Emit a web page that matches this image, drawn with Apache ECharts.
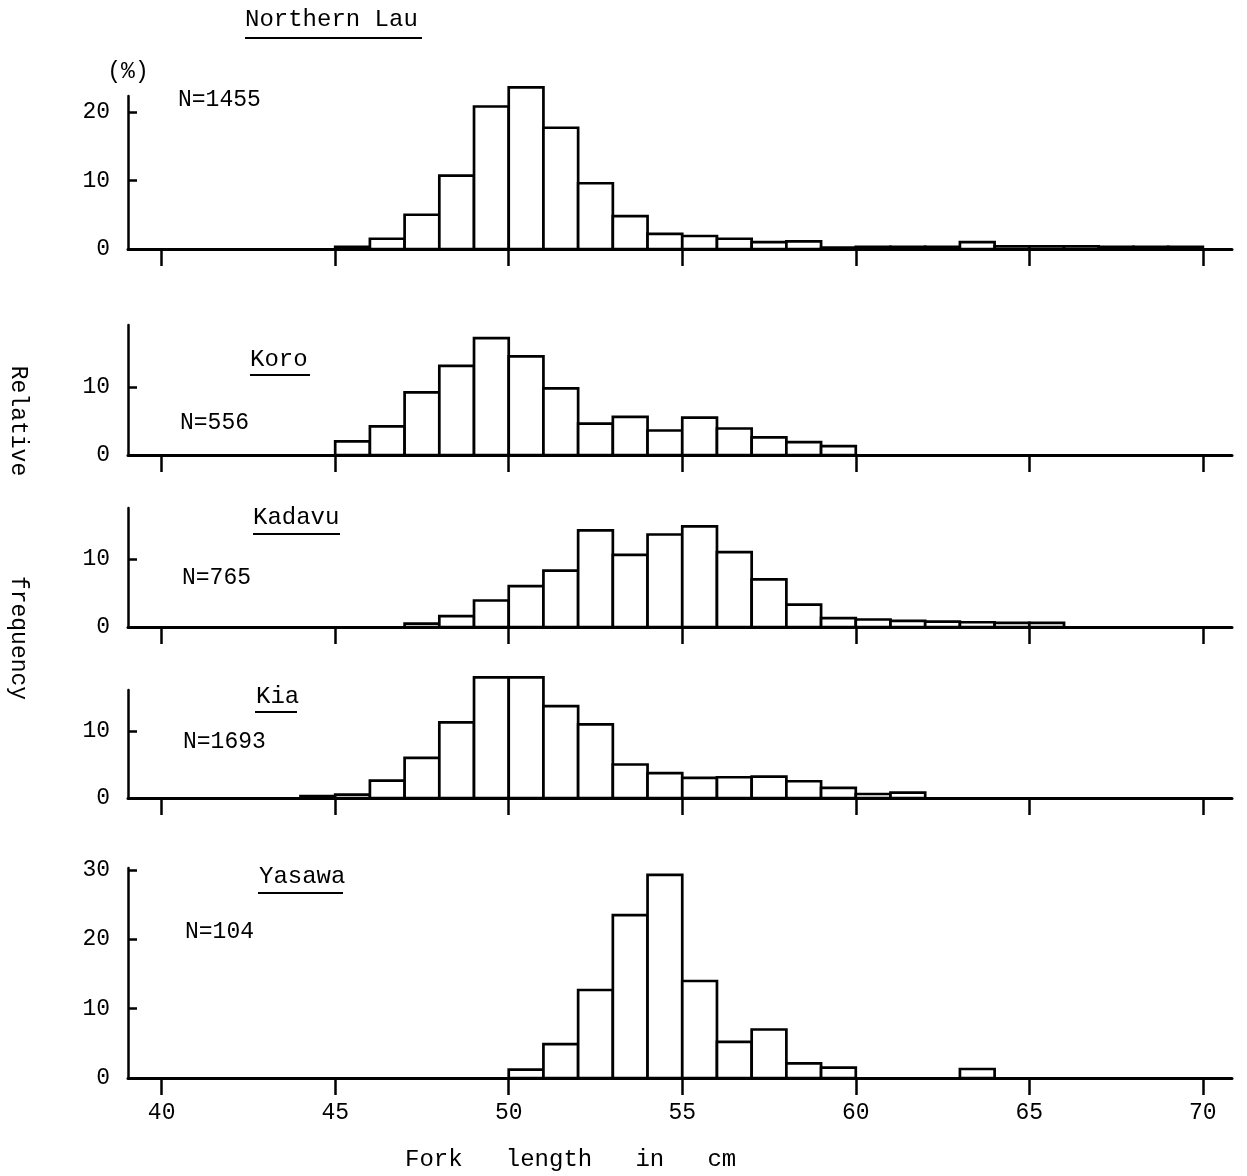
<!DOCTYPE html>
<html><head><meta charset="utf-8">
<script src="https://cdn.jsdelivr.net/npm/echarts@6/dist/echarts.min.js"></script>
<style>html,body{margin:0;padding:0;background:#fff}#c{width:1247px;height:1176px}</style>
</head><body><div id="c"></div>
<script>
// ---- data ----
const binStarts   = [44,45,46,47,48,49,50,51,52,53,54,55,56,57,58,59,60,61,62,63,64,65,66,67,68,69];
const binWidth = 1;
const northernLau = [0,0.3,1.5,5.0,10.7,20.8,23.6,17.7,9.6,4.8,2.2,1.9,1.5,1.0,1.1,0.2,0.3,0.3,0.3,1.0,0.4,0.4,0.4,0.3,0.3,0.3];
const koro        = [0,2.0,4.2,9.2,13.1,17.2,14.5,9.8,4.6,5.6,3.6,5.5,3.9,2.6,1.9,1.3,0,0,0,0,0,0,0,0,0,0];
const kadavu      = [0,0,0,0.5,1.6,3.9,6.0,8.3,14.2,10.6,13.6,14.8,11.0,7.0,3.3,1.3,1.1,0.9,0.8,0.7,0.6,0.6,0,0,0,0];
const kia         = [0.3,0.5,2.6,6.0,11.3,18.0,18.0,13.7,11.0,5.0,3.7,3.0,3.1,3.2,2.5,1.5,0.6,0.8,0,0,0,0,0,0,0,0];
const yasawa      = [0,0,0,0,0,0,1.2,4.9,12.7,23.5,29.3,14.0,5.2,7.0,2.1,1.5,0,0,0,1.3,0,0,0,0,0,0];
const seriesValues = [northernLau, koro, kadavu, kia, yasawa];
const panelNames  = ['Northern Lau','Koro','Kadavu','Kia','Yasawa'];
const sampleSizes = ['N=1455','N=556','N=765','N=1693','N=104'];
const xTickValues = [40,45,50,55,60,65,70];
const yTickValues = [[0,10,20],[0,10],[0,10],[0,10],[0,10,20,30]];
const xAxisTitle = 'Fork   length   in   cm';
const yAxisTitleParts = ['Relative','frequency'];
const unitLabel = '(%)';

// ---- layout ----
const FONT = '"Liberation Mono", "DejaVu Sans Mono", monospace';
const panels = [
  {top:96,  bottom:249,  scale:6.85, title:[245,20],  tl:[245,422,38],  n:[178,100]},
  {top:325, bottom:455,  scale:6.8,  title:[250,360], tl:[250,310,375], n:[180,423]},
  {top:508, bottom:627,  scale:6.8,  title:[253,518], tl:[253,340,534], n:[182,578]},
  {top:690, bottom:798,  scale:6.7,  title:[256,697], tl:[255,297,712], n:[183,742]},
  {top:868, bottom:1078, scale:6.93, title:[259,877], tl:[258,343,893], n:[185,932]}
];
const X_MIN = 39.03, X_MAX = 70.84;

const grids = [], xAxes = [], yAxes = [], series = [], graphics = [];
panels.forEach((p, i) => {
  const last = i === panels.length - 1;
  grids.push({left:128, right:15, top:p.top, height:p.bottom - p.top});
  xAxes.push({
    type:'value', gridIndex:i, min:X_MIN, max:X_MAX,
    axisLine:{show:true, lineStyle:{color:'#000', width:3}},
    axisTick:{show:true, inside:false, length:17, customValues:xTickValues, lineStyle:{color:'#000', width:2.5}},
    axisLabel:{show:last, customValues:xTickValues, margin:23, color:'#000', fontFamily:FONT, fontSize:23},
    splitLine:{show:false}
  });
  yAxes.push({
    type:'value', gridIndex:i, min:0, max:(p.bottom - p.top) / p.scale,
    axisLine:{show:true, lineStyle:{color:'#000', width:2.5}},
    axisTick:{show:true, inside:true, length:9, customValues:yTickValues[i], lineStyle:{color:'#000', width:2.5}},
    axisLabel:{show:true, customValues:yTickValues[i], margin:18, color:'#000', fontFamily:FONT, fontSize:23},
    splitLine:{show:false}
  });
  const vals = seriesValues[i];
  series.push({
    type:'custom', xAxisIndex:i, yAxisIndex:i, clip:false,
    data: binStarts.map((b, k) => [b, vals[k]]),
    renderItem: function(params, api) {
      const x0 = api.value(0), v = api.value(1);
      if (!v) return null;
      const a = api.coord([x0, v]);
      const b = api.coord([x0 + binWidth, 0]);
      return {type:'rect', shape:{x:a[0], y:a[1], width:b[0]-a[0], height:b[1]-a[1]},
              style:{fill:'#fff', stroke:'#000', lineWidth:2.7}};
    }
  });
  graphics.push({type:'text', left:p.title[0], top:p.title[1]-12,
    style:{text:panelNames[i], font:'24px ' + FONT, fill:'#000'}});
  graphics.push({type:'line', shape:{x1:p.tl[0], y1:p.tl[2], x2:p.tl[1], y2:p.tl[2]},
    style:{stroke:'#000', lineWidth:2}});
  graphics.push({type:'text', left:p.n[0], top:p.n[1]-12,
    style:{text:sampleSizes[i], font:'23px ' + FONT, fill:'#000'}});
});

graphics.push({type:'text', x:128, y:72, style:{text:unitLabel, font:'23px ' + FONT, fill:'#000', align:'center', verticalAlign:'middle'}});
graphics.push({type:'text', x:405, y:1160, style:{text:xAxisTitle, font:'24px ' + FONT, fill:'#000', align:'left', verticalAlign:'middle'}});
graphics.push({type:'text', x:18, y:421, rotation:-Math.PI/2, style:{text:yAxisTitleParts[0], font:'23px ' + FONT, fill:'#000', align:'center', verticalAlign:'middle'}});
graphics.push({type:'text', x:18, y:638, rotation:-Math.PI/2, style:{text:yAxisTitleParts[1], font:'23px ' + FONT, fill:'#000', align:'center', verticalAlign:'middle'}});

const chart = echarts.init(document.getElementById('c'), null, {renderer:'canvas'});
chart.setOption({
  animation:false, backgroundColor:'#fff',
  grid:grids, xAxis:xAxes, yAxis:yAxes, series:series, graphic:graphics
});
</script></body></html>
